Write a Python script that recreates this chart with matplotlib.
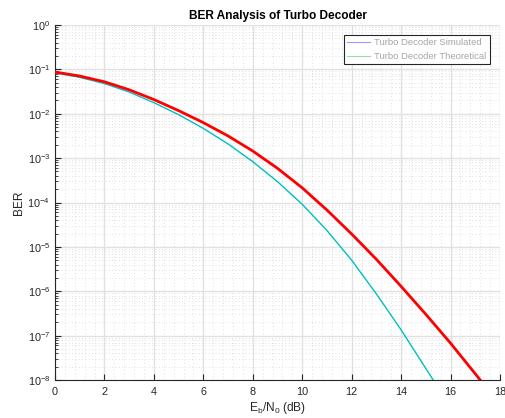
import matplotlib
matplotlib.use("Agg")
import matplotlib.pyplot as plt
from matplotlib.ticker import LogLocator, AutoMinorLocator, NullFormatter

plt.rcParams["font.family"] = ["Liberation Sans", "DejaVu Sans"]
plt.rcParams["mathtext.fontset"] = "custom"
plt.rcParams["mathtext.rm"] = "Liberation Sans"
plt.rcParams["mathtext.it"] = "Liberation Sans"

# values (log10 of BER)
ebno_sim = [0, 1, 2, 3, 4, 5, 6, 7, 8, 9, 10, 11, 12, 13, 14, 15, 16, 17, 17.2]
log_ber_sim = [-1.06, -1.15, -1.28, -1.46, -1.68, -1.93, -2.20, -2.50, -2.84,
               -3.23, -3.67, -4.17, -4.71, -5.28, -5.89, -6.52, -7.17, -7.86, -8.0]
ebno_theory = [0, 1, 2, 3, 4, 5, 6, 7, 8, 9, 10, 11, 12, 13, 14, 15, 15.3]
log_ber_theory = [-1.08, -1.18, -1.32, -1.51, -1.75, -2.02, -2.33, -2.68, -3.08,
                  -3.53, -4.04, -4.63, -5.30, -6.06, -6.87, -7.74, -8.0]
x_ticks = list(range(0, 19, 2))
y_ticks = [10.0 ** k for k in range(-8, 1)]

ber_sim = [10 ** v for v in log_ber_sim]
ber_theory = [10 ** v for v in log_ber_theory]

fig = plt.figure(figsize=(5.06, 4.18), dpi=100)
ax = fig.add_axes((0.1087, 0.0909, 0.8794, 0.8493))

ax.semilogy(ebno_sim, ber_sim, color="#ff0000", linewidth=2.0, zorder=4)
ax.semilogy(ebno_theory, ber_theory, color="#00bfbf", linewidth=1.0, zorder=3)

ax.set_xlim(0, 18)
ax.set_ylim(1e-8, 1)
ax.set_xticks(x_ticks)
ax.set_yticks(y_ticks)
ax.xaxis.set_minor_locator(AutoMinorLocator(5))
ax.yaxis.set_minor_locator(LogLocator(base=10, subs=range(2, 10), numticks=20))
ax.yaxis.set_minor_formatter(NullFormatter())

ax.grid(which="major", color="#e1e1e1", linewidth=1.0, linestyle="-")
ax.grid(which="minor", color="#d6d6d6", linewidth=0.6, linestyle=(0, (1, 3)))
ax.set_axisbelow(True)

ax.spines[["top", "right"]].set_visible(False)
for side in ("left", "bottom"):
    ax.spines[side].set_color("#262626")
    ax.spines[side].set_linewidth(0.8)
ax.tick_params(which="both", direction="in", colors="#262626", labelsize=7.8)
ax.tick_params(which="major", length=4)
ax.tick_params(axis="y", which="minor", length=2)
ax.tick_params(axis="x", which="minor", length=0)
ax.tick_params(axis="x", pad=5)

ax.set_title("BER Analysis of Turbo Decoder", fontsize=8.6, fontweight="bold", pad=4)
ax.set_xlabel("E$_\\mathrm{b}$/N$_\\mathrm{0}$ (dB)", fontsize=8.6, color="#262626", labelpad=2)
ax.set_ylabel("BER", fontsize=8.6, color="#262626", labelpad=2)

h1, = ax.plot([], [], color="#9999ff", linewidth=0.8)
h2, = ax.plot([], [], color="#99dd99", linewidth=0.8)
leg = ax.legend([h1, h2], ["Turbo Decoder Simulated", "Turbo Decoder Theoretical"],
                loc="upper right", bbox_to_anchor=(0.9775, 0.972), fontsize=6.8,
                fancybox=False, framealpha=1, edgecolor="#262626",
                handlelength=2.4, handletextpad=0.45, borderpad=0.35,
                labelspacing=0.5, borderaxespad=0)
leg.get_frame().set_linewidth(0.8)
for t in leg.get_texts():
    t.set_color("#a6a6a6")

fig.savefig("out.png", dpi=100)
